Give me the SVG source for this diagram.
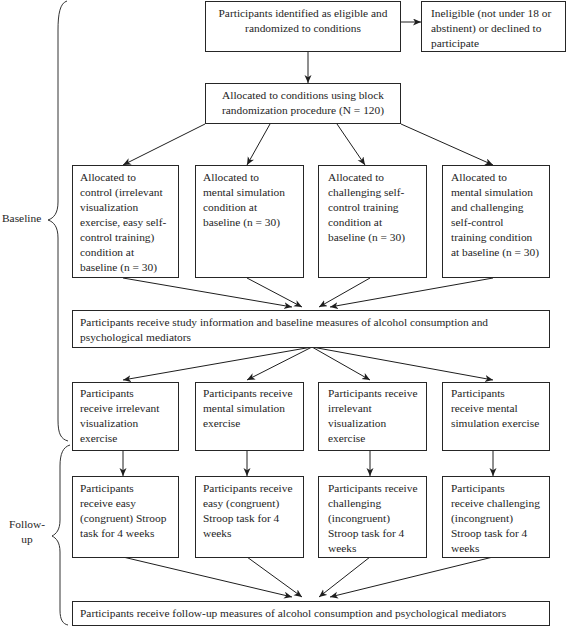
<svg xmlns="http://www.w3.org/2000/svg" width="567" height="627" viewBox="0 0 567 627">
<style>
rect{fill:#fff;stroke:#262626;stroke-width:1}
text{font-family:"Liberation Serif","Times New Roman",serif;font-size:11.4px;fill:#1e1e1e}
.c{text-anchor:middle}
.ln{fill:none;stroke:#1e1e1e;stroke-width:1}
.br{fill:none;stroke:#333;stroke-width:1}
</style>
<defs>
<marker id="ah" markerUnits="userSpaceOnUse" markerWidth="10" markerHeight="8" refX="8" refY="3.5" orient="auto">
<path d="M0,0 L8,3.5 L0,7 L2.2,3.5 z" fill="#1e1e1e"/>
</marker>
</defs>
<rect width="567" height="627" style="fill:#fff;stroke:none"/>

<g id="braces">
<path class="br" d="M67,1 C60,3 58,14 58,30 L58,202 C58,213 54,218 48,220 C54,222 58,227 58,238 L58,420 C58,434 61,439 68,441"/>
<path class="br" d="M70,445 C63,447 60,454 60,466 L60,520 C60,530 56,534 52,536 C56,538 60,542 60,552 L60,610 C60,620 63,624 68,625"/>
<text x="2" y="222">Baseline</text>
<text class="c" x="27" y="528">Follow-</text>
<text class="c" x="27" y="543">up</text>
</g>

<g id="connectors">
<line class="ln" x1="401" y1="22" x2="421" y2="22" marker-end="url(#ah)"/>
<line class="ln" x1="308" y1="52" x2="308" y2="83" marker-end="url(#ah)"/>
<line class="ln" x1="205" y1="124" x2="123" y2="165" marker-end="url(#ah)"/>
<line class="ln" x1="270" y1="124" x2="247" y2="165" marker-end="url(#ah)"/>
<line class="ln" x1="337" y1="124" x2="365" y2="165" marker-end="url(#ah)"/>
<line class="ln" x1="401" y1="124" x2="493" y2="165" marker-end="url(#ah)"/>
<line class="ln" x1="123" y1="278" x2="292" y2="307" marker-end="url(#ah)"/>
<line class="ln" x1="247" y1="278" x2="302" y2="307" marker-end="url(#ah)"/>
<line class="ln" x1="370" y1="278" x2="319" y2="307" marker-end="url(#ah)"/>
<line class="ln" x1="493" y1="278" x2="330" y2="307" marker-end="url(#ah)"/>
<line class="ln" x1="312" y1="347" x2="123" y2="380" marker-end="url(#ah)"/>
<line class="ln" x1="312" y1="347" x2="247" y2="380" marker-end="url(#ah)"/>
<line class="ln" x1="312" y1="347" x2="370" y2="380" marker-end="url(#ah)"/>
<line class="ln" x1="312" y1="347" x2="493" y2="380" marker-end="url(#ah)"/>
<line class="ln" x1="123" y1="450" x2="123" y2="476" marker-end="url(#ah)"/>
<line class="ln" x1="247" y1="450" x2="247" y2="476" marker-end="url(#ah)"/>
<line class="ln" x1="370" y1="450" x2="370" y2="476" marker-end="url(#ah)"/>
<line class="ln" x1="493" y1="450" x2="493" y2="476" marker-end="url(#ah)"/>
<line class="ln" x1="123" y1="557" x2="292" y2="597" marker-end="url(#ah)"/>
<line class="ln" x1="247" y1="557" x2="302" y2="597" marker-end="url(#ah)"/>
<line class="ln" x1="370" y1="557" x2="319" y2="597" marker-end="url(#ah)"/>
<line class="ln" x1="493" y1="557" x2="330" y2="597" marker-end="url(#ah)"/>
</g>

<g id="identified">
<rect x="205.5" y="1.5" width="195" height="50"/>
<text class="c" x="303" y="17">Participants identified as eligible and</text>
<text class="c" x="303" y="32">randomized to conditions</text>
</g>
<g id="ineligible">
<rect x="421.5" y="1.5" width="144" height="50"/>
<text x="431" y="17">Ineligible (not under 18 or</text>
<text x="431" y="32">abstinent) or declined to</text>
<text x="431" y="47">participate</text>
</g>
<g id="allocated">
<rect x="205.5" y="83.5" width="195" height="40"/>
<text class="c" x="303" y="99">Allocated to conditions using block</text>
<text class="c" x="303" y="114">randomization procedure (N = 120)</text>
</g>

<g id="alloc1">
<rect x="72.5" y="165.5" width="106" height="112"/>
<text x="80" y="181">Allocated to</text>
<text x="80" y="196">control (irrelevant</text>
<text x="80" y="211">visualization</text>
<text x="80" y="226">exercise, easy self-</text>
<text x="80" y="241">control training)</text>
<text x="80" y="256">condition at</text>
<text x="80" y="271">baseline (n = 30)</text>
</g>
<g id="alloc2">
<rect x="195.5" y="165.5" width="108" height="112"/>
<text x="203" y="181">Allocated to</text>
<text x="203" y="196">mental simulation</text>
<text x="203" y="211">condition at</text>
<text x="203" y="226">baseline (n = 30)</text>
</g>
<g id="alloc3">
<rect x="318.5" y="165.5" width="108" height="112"/>
<text x="328" y="181">Allocated to</text>
<text x="328" y="196">challenging self-</text>
<text x="328" y="211">control training</text>
<text x="328" y="226">condition at</text>
<text x="328" y="241">baseline (n = 30)</text>
</g>
<g id="alloc4">
<rect x="442.5" y="165.5" width="107" height="112"/>
<text x="451" y="181">Allocated to</text>
<text x="451" y="196">mental simulation</text>
<text x="451" y="211">and challenging</text>
<text x="451" y="226">self-control</text>
<text x="451" y="241">training condition</text>
<text x="451" y="256">at baseline (n = 30)</text>
</g>

<g id="baseline-measures">
<rect x="72.5" y="310.5" width="477" height="37"/>
<text x="80" y="326">Participants receive study information and baseline measures of alcohol consumption and</text>
<text x="80" y="341">psychological mediators</text>
</g>

<g id="exercise1">
<rect x="72.5" y="382.5" width="106" height="68"/>
<text x="80" y="397">Participants</text>
<text x="80" y="412">receive irrelevant</text>
<text x="80" y="427">visualization</text>
<text x="80" y="442">exercise</text>
</g>
<g id="exercise2">
<rect x="195.5" y="382.5" width="108" height="68"/>
<text x="203" y="397">Participants receive</text>
<text x="203" y="412">mental simulation</text>
<text x="203" y="427">exercise</text>
</g>
<g id="exercise3">
<rect x="318.5" y="382.5" width="108" height="68"/>
<text x="328" y="397">Participants receive</text>
<text x="328" y="412">irrelevant</text>
<text x="328" y="427">visualization</text>
<text x="328" y="442">exercise</text>
</g>
<g id="exercise4">
<rect x="442.5" y="382.5" width="107" height="68"/>
<text x="451" y="397">Participants</text>
<text x="451" y="412">receive mental</text>
<text x="451" y="427">simulation exercise</text>
</g>

<g id="stroop1">
<rect x="72.5" y="476.5" width="106" height="81"/>
<text x="80" y="492">Participants</text>
<text x="80" y="507">receive easy</text>
<text x="80" y="522">(congruent) Stroop</text>
<text x="80" y="537">task for 4 weeks</text>
</g>
<g id="stroop2">
<rect x="195.5" y="476.5" width="108" height="81"/>
<text x="203" y="492">Participants receive</text>
<text x="203" y="507">easy (congruent)</text>
<text x="203" y="522">Stroop task for 4</text>
<text x="203" y="537">weeks</text>
</g>
<g id="stroop3">
<rect x="318.5" y="476.5" width="108" height="81"/>
<text x="328" y="492">Participants receive</text>
<text x="328" y="507">challenging</text>
<text x="328" y="522">(incongruent)</text>
<text x="328" y="537">Stroop task for 4</text>
<text x="328" y="552">weeks</text>
</g>
<g id="stroop4">
<rect x="442.5" y="476.5" width="107" height="81"/>
<text x="451" y="492">Participants</text>
<text x="451" y="507">receive challenging</text>
<text x="451" y="522">(incongruent)</text>
<text x="451" y="537">Stroop task for 4</text>
<text x="451" y="552">weeks</text>
</g>

<g id="followup-measures">
<rect x="72.5" y="601.5" width="477" height="24"/>
<text x="80" y="617">Participants receive follow-up measures of alcohol consumption and psychological mediators</text>
</g>
</svg>
